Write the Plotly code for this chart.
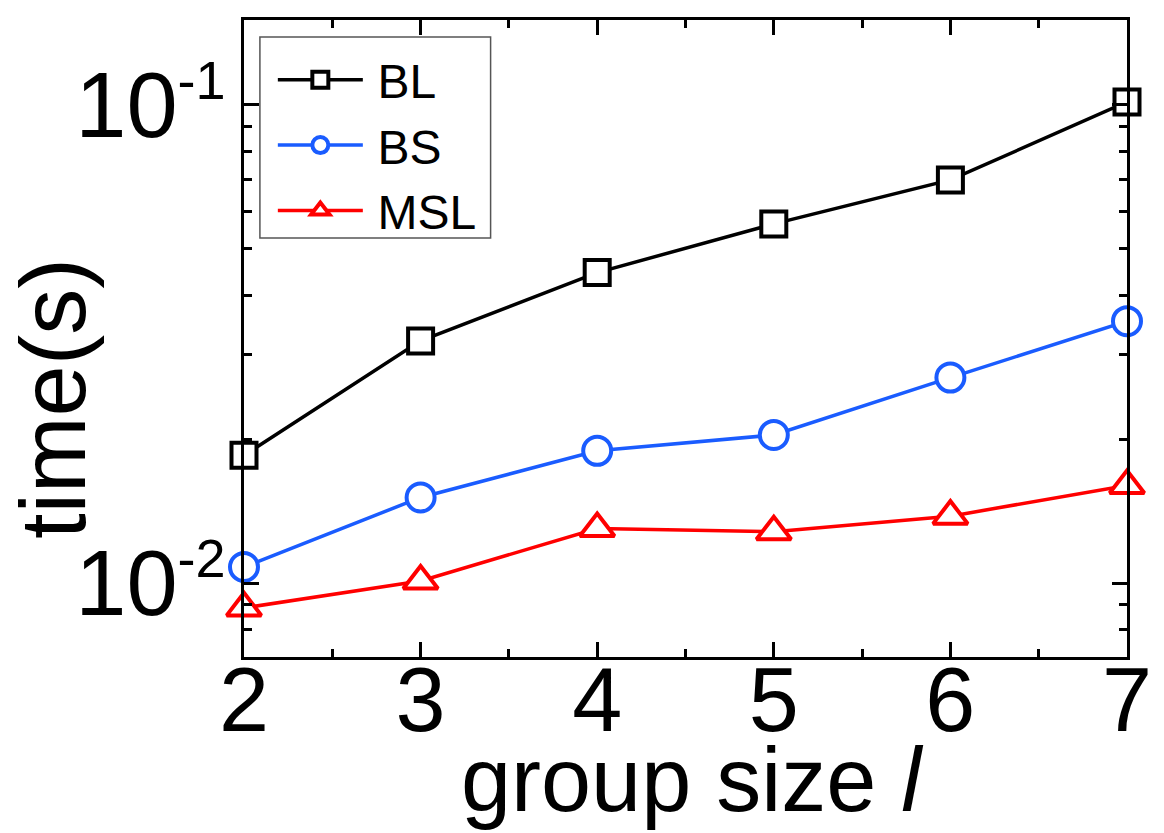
import plotly.graph_objects as go

group_size = [2, 3, 4, 5, 6, 7]
bl = [0.0185, 0.0321, 0.0446, 0.0564, 0.0697, 0.1015]
bs = [0.0108, 0.0151, 0.0189, 0.0204, 0.0269, 0.0353]
msl = [0.00887, 0.0101, 0.0130, 0.0128, 0.0138, 0.0160]

series_names = ["BL", "BS", "MSL"]
y_tickvals = [0.01, 0.1]
y_ticktext = ["10<sup><span style='font-size:54px'>-2</span></sup>",
              "10<sup><span style='font-size:54px'>-1</span></sup>"]
x_tickvals = [2, 3, 4, 5, 6, 7]

FONT = "Liberation Sans, Arial, sans-serif"

styles = [
    dict(color="#000000", symbol="square", size=25),
    dict(color="#1a5cff", symbol="circle", size=28),
    dict(color="#ff0000", symbol="triangle-up", size=30),
]

fig = go.Figure()
for name, vals, st in zip(series_names, [bl, bs, msl], styles):
    fig.add_trace(go.Scatter(
        x=group_size, y=vals, name="\u2009" + name, mode="lines+markers",
        line=dict(color=st["color"], width=3.5),
        marker=dict(symbol=st["symbol"], size=st["size"], color="white",
                    line=dict(color=st["color"], width=4)),
        cliponaxis=False,
    ))

minor_y = [k * 10 ** e for e in (-3, -2, -1) for k in range(2, 10)]

W, H = 1164, 833
L, R, T, B = 244, 32, 20, 176
PW, PH = W - L - R, H - T - B


def px(x):
    return (x - L) / PW


def py(y):
    return (H - B - y) / PH


fig.update_layout(
    width=W, height=H,
    margin=dict(l=L, r=R, t=T, b=B),
    paper_bgcolor="white", plot_bgcolor="white",
    font=dict(family=FONT, color="black"),
    showlegend=True,
    legend=dict(
        x=px(273), y=py(42), xanchor="left", yanchor="top",
        bgcolor="rgba(0,0,0,0)", borderwidth=0,
        font=dict(family=FONT, size=48, color="black"),
        itemwidth=85, tracegroupgap=0,
    ),
    shapes=[dict(type="rect", xref="paper", yref="paper",
                 x0=px(260), x1=px(492), y0=py(238), y1=py(37),
                 line=dict(color="#555555", width=1.5), fillcolor="white", layer="above")],
    xaxis=dict(
        range=[2, 7], tickvals=x_tickvals, ticks="inside", ticklen=15, tickwidth=3,
        tickcolor="black", showline=True, linecolor="black", linewidth=3,
        mirror="ticks", showgrid=False, zeroline=False, ticklabelstandoff=-37,
        tickfont=dict(family=FONT, size=90, color="black"),
        minor=dict(tickvals=[2.5, 3.5, 4.5, 5.5, 6.5], ticks="inside", ticklen=8,
                   tickwidth=3, tickcolor="black", showgrid=False),
    ),
    yaxis=dict(
        type="log", range=[-2.1548, -0.8222], tickvals=y_tickvals, ticktext=y_ticktext,
        ticks="inside", ticklen=15, tickwidth=3, tickcolor="black",
        showline=True, linecolor="black", linewidth=3, mirror="ticks",
        showgrid=False, zeroline=False, ticklabelstandoff=-3,
        tickfont=dict(family=FONT, size=92, color="black"),
        minor=dict(tickvals=minor_y, ticks="inside", ticklen=8, tickwidth=3,
                   tickcolor="black", showgrid=False),
    ),
    annotations=[
        dict(text="time(s)", xref="paper", yref="paper",
             x=px(52), y=py(399), xanchor="center", yanchor="middle",
             textangle=-90, showarrow=False, font=dict(family=FONT, size=92, color="black")),
        dict(text="group size <i>l</i>", xref="paper", yref="paper",
             x=px(695), y=py(780), xanchor="center", yanchor="middle",
             showarrow=False, font=dict(family=FONT, size=90, color="black")),
    ],
)

fig.write_html("out.html")
